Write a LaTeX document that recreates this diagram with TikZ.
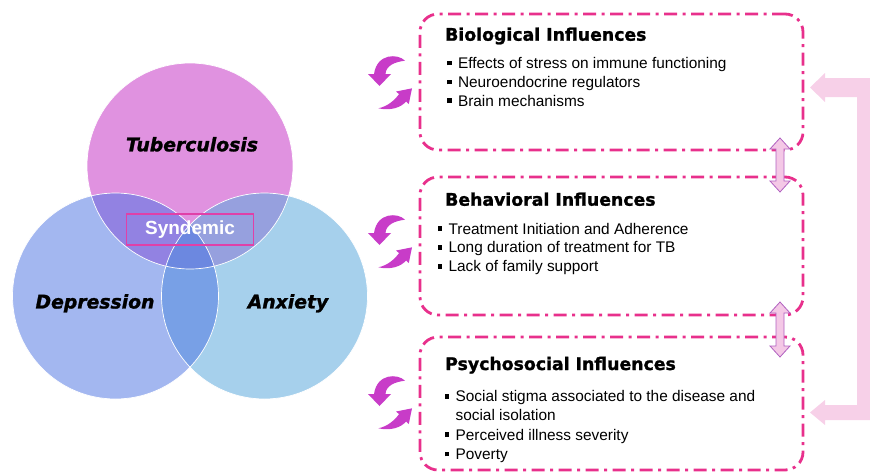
\documentclass[tikz,border=0pt]{standalone}
\usepackage{fontspec}
\setmainfont{Liberation Sans}
\newfontfamily\dvs{DejaVu Sans}[BoldFeatures={FakeBold=1.3},BoldItalicFeatures={FakeBold=1.3}]
\usepackage{graphicx}
\definecolor{cTB}{HTML}{E092E0}
\definecolor{cDep}{HTML}{A3B7F0}
\definecolor{cAnx}{HTML}{A6D0EC}
\definecolor{cTD}{HTML}{9282E2}
\definecolor{cTA}{HTML}{96A0DE}
\definecolor{cDA}{HTML}{78A0E6}
\definecolor{cAll}{HTML}{6C88E0}
\definecolor{synline}{HTML}{E040A8}
\definecolor{boxline}{HTML}{E8308C}
\definecolor{bigc}{HTML}{F7D0E8}
\definecolor{dblfill}{HTML}{F4C8E6}
\definecolor{dblline}{HTML}{B060C0}
\definecolor{arrc}{HTML}{C83CC8}
\newcommand{\bsq}{\rule[3pt]{4.8pt}{4.8pt}\hspace{6.3pt}}
\tikzset{
  ibox/.style={draw=boxline, line width=2.8pt, rounded corners=18pt,
    dash pattern=on 13pt off 5.5pt on 3pt off 5.5pt, minimum width=383pt},
  ttl/.style={inner sep=0pt, anchor=base west, font=\dvs\bfseries\fontsize{17.3}{20}\selectfont},
  bl/.style={inner sep=0pt, anchor=base west, font=\fontsize{15.4}{18}\selectfont},
  vlab/.style={inner sep=0pt, font=\dvs\bfseries\itshape\fontsize{18.8}{22}\selectfont},
  cyc/.pic={
    \fill[arrc] (15,-19.3) .. controls (8,-26.5) and (-13,-27) .. (-16,-6)
       -- (-22,-6) -- (-10.5,6) -- (1,-6) -- (-4.5,-6)
       .. controls (-4,-14) and (4,-18) .. (15,-19.3) -- cycle;
    \fill[arrc] (-11.7,28.3) .. controls (1,31) and (11,27.5) .. (16,21.5)
       -- (18.8,24) -- (22,8.3) -- (6.2,11.5) -- (9,14.2)
       .. controls (4,21) and (-3,26.5) .. (-11.7,28.3) -- cycle;
  }
}
\begin{document}
\begin{tikzpicture}[x=1pt,y=-1pt]
\useasboundingbox (0,0) rectangle (870,474);
% Venn circles
\coordinate (cT) at (190,166);
\coordinate (cD) at (115.5,296);
\coordinate (cA) at (264.5,296);
\fill[cTB] (cT) circle[radius=103pt];
\fill[cDep] (cD) circle[radius=103pt];
\fill[cAnx] (cA) circle[radius=103pt];
\begin{scope}
  \clip (cD) circle[radius=103pt];
  \fill[cDA] (cA) circle[radius=103pt];
\end{scope}
\begin{scope}
  \clip (cT) circle[radius=103pt];
  \fill[cTD] (cD) circle[radius=103pt];
  \fill[cTA] (cA) circle[radius=103pt];
  \clip (cD) circle[radius=103pt];
  \fill[cAll] (cA) circle[radius=103pt];
\end{scope}
\draw[white, line width=0.7pt] (cT) circle[radius=103pt];
\draw[white, line width=0.7pt] (cD) circle[radius=103pt];
\draw[white, line width=0.7pt] (cA) circle[radius=103pt];
\node[vlab] (tb) at (192,144.3) {Tuberculosis};
\node[vlab] (dep) at (95,303.3) {Depression};
\node[vlab] (anx) at (288,303.3) {Anxiety};
\node[draw=synline, line width=1.1pt, minimum width=127pt, minimum height=31pt,
  inner sep=0pt, text=white, font=\bfseries\fontsize{19}{22}\selectfont] (syn) at (190,229.5) {Syndemic};
% right boxes
\node[ibox, minimum height=136pt] (b1) at (611.5,82) {};
\node[ibox, minimum height=138pt] (b2) at (611.5,246) {};
\node[ibox, minimum height=133pt] (b3) at (611.5,403.5) {};
% texts
\node[ttl] (t1) at (445,40.7) {Biological Influences};
\node[bl] (l11) at (446.7,68.3) {\bsq Effects of stress on immune functioning};
\node[bl] (l12) at (446.7,87.3) {\bsq Neuroendocrine regulators};
\node[bl] (l13) at (446.7,106) {\bsq Brain mechanisms};
\node[ttl] (t2) at (445,205.7) {Behavioral Influences};
\node[bl] (l21) at (437.3,234) {\bsq Treatment Initiation and Adherence};
\node[bl] (l22) at (437.3,252.7) {\bsq Long duration of treatment for TB};
\node[bl] (l23) at (437.3,271.7) {\bsq Lack of family support};
\node[ttl] (t3) at (445,370) {Psychosocial Influences};
\node[bl] (l31) at (444.3,401.7) {\bsq Social stigma associated to the disease and};
\node[bl] (l31b) at (455.4,420.5) {social isolation};
\node[bl] (l32) at (444.3,440) {\bsq Perceived illness severity};
\node[bl] (l33) at (444.3,459.3) {\bsq Poverty};
% double arrows between boxes
\filldraw[fill=dblfill, draw=dblline, line width=0.8pt]
  (780,138) -- (790,149) -- (784,149) -- (784,181) -- (790,181) -- (780,192)
  -- (770,181) -- (776,181) -- (776,149) -- (770,149) -- cycle;
\filldraw[fill=dblfill, draw=dblline, line width=0.8pt]
  (780,302) -- (790,313) -- (784,313) -- (784,346) -- (790,346) -- (780,357)
  -- (770,346) -- (776,346) -- (776,313) -- (770,313) -- cycle;
% big bracket arrow
\fill[bigc] (870,78) -- (825,78) -- (825,73) -- (810,87.5) -- (825,102) -- (825,97)
  -- (857,97) -- (857,405) -- (825,405) -- (825,400) -- (810,412.5) -- (825,425)
  -- (825,420) -- (870,420) -- cycle;
% cycle arrows
\pic at (390,80) {cyc};
\pic at (390,239) {cyc};
\pic at (390,400) {cyc};
\end{tikzpicture}
\end{document}
